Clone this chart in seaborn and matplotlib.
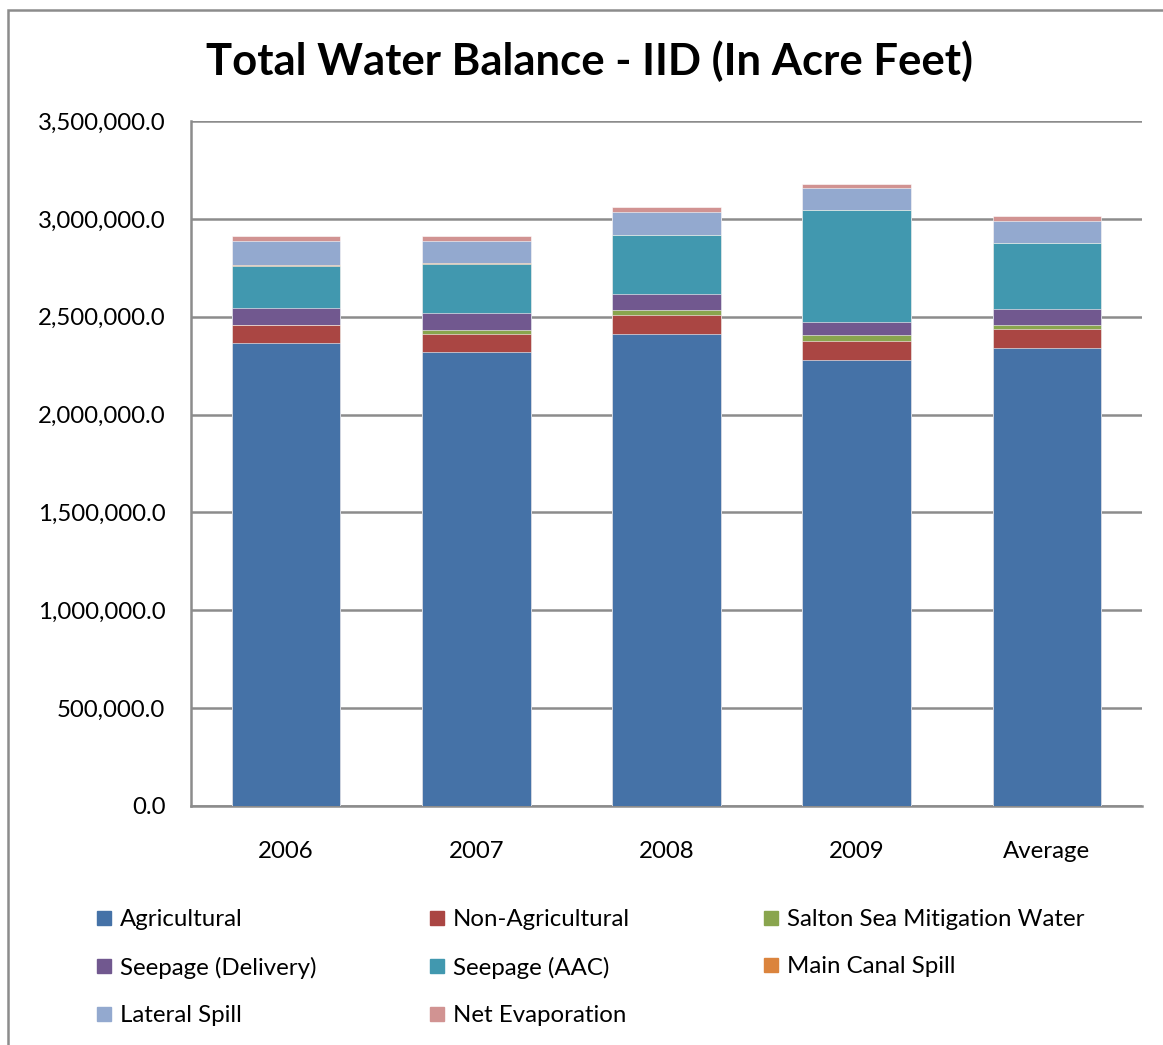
import matplotlib
matplotlib.use("Agg")
import matplotlib.pyplot as plt
from matplotlib.lines import Line2D
from matplotlib.patches import Rectangle
import seaborn as sns
import pandas as pd
import numpy as np

categories = ["2006", "2007", "2008", "2009", "Average"]
agricultural = [2364000, 2318000, 2410000, 2277000, 2341000]
non_agricultural = [92000, 92000, 100000, 97000, 97000]
salton_sea = [0, 22000, 22500, 30700, 20400]
seepage_delivery = [86900, 86900, 81700, 66400, 78700]
seepage_aac = [217600, 250000, 301400, 572200, 337200]
main_canal_spill = [2000, 3000, 2500, 2000, 2500]
lateral_spill = [122600, 114000, 117500, 112400, 114000]
net_evaporation = [25500, 25500, 25500, 20400, 25500]

series_names = ["Agricultural", "Non-Agricultural", "Salton Sea Mitigation Water",
                "Seepage (Delivery)", "Seepage (AAC)", "Main Canal Spill",
                "Lateral Spill", "Net Evaporation"]
series_values = [agricultural, non_agricultural, salton_sea, seepage_delivery,
                 seepage_aac, main_canal_spill, lateral_spill, net_evaporation]
colors = ["#4572A7", "#AA4643", "#89A54E", "#71588F", "#4198AF", "#DB843D",
          "#93A9CF", "#D19392"]

sns.set_theme(style="white")
plt.rcParams['font.family'] = ['Lato', 'DejaVu Sans']
plt.rcParams['text.color'] = 'black'

W, H = 1163, 1045
fig = plt.figure(figsize=(W / 100, H / 100), dpi=100)
ax = fig.add_axes([191 / W, 1 - 806 / H, (1142 - 191) / W, (806 - 121) / H])

df = pd.DataFrame({"cat": categories})
cum = np.zeros(len(categories))
cums = []
for vals in series_values:
    cum = cum + np.array(vals, dtype=float)
    cums.append(cum.copy())

for i in range(len(series_names) - 1, -1, -1):
    df["v"] = cums[i]
    sns.barplot(data=df, x="cat", y="v", color=colors[i], saturation=1,
                width=0.57, ax=ax, edgecolor="white", linewidth=0.4, zorder=3)

ax.set_ylim(0, 3500000)
ax.set_xlim(-0.5, 4.5)
ax.set_yticks(np.arange(0, 3500001, 500000))
ax.set_yticklabels([f"{v:,.1f}" for v in np.arange(0, 3500001, 500000)])
ax.yaxis.grid(True, color="#8c8c8c", linewidth=1.8, zorder=0)
ax.set_axisbelow(True)
ax.set_xlabel("")
ax.set_ylabel("")
for s in ["top", "right"]:
    ax.spines[s].set_visible(False)
for s in ["left", "bottom"]:
    ax.spines[s].set_color("#8c8c8c")
    ax.spines[s].set_linewidth(1.8)
ax.tick_params(axis="y", length=0, pad=18.5, labelsize=17.3, labelcolor="black")
ax.tick_params(axis="x", length=0, pad=25, labelsize=17.3, labelcolor="black")

fig.text(590 / W, 1 - 61 / H, "Total Water Balance - IID (In Acre Feet)",
         ha="center", va="center", fontsize=31.4, fontweight="bold", color="black")

# outer chart frame
fig.patches.append(Rectangle((8 / W, -0.05), 1.2, 1 - 10 / H + 0.05,
                             transform=fig.transFigure, fill=False,
                             edgecolor="#8c8c8c", linewidth=1.8))

cols = [[0, 3, 6], [1, 4, 7], [2, 5]]
col_x = [96, 429, 763]
for ci, idxs in enumerate(cols):
    handles = [Line2D([], [], linestyle="none", marker="s", markersize=10.5,
                      markerfacecolor=colors[k], markeredgecolor=colors[k])
               for k in idxs]
    labels = [series_names[k] for k in idxs]
    fig.legend(handles, labels, loc="upper left",
               bbox_to_anchor=(col_x[ci] / W, 1 - 909 / H),
               frameon=False, fontsize=17.3, handlelength=0.7,
               handletextpad=0.3, labelspacing=1.1, borderpad=0,
               borderaxespad=0, labelcolor="black")

fig.savefig("out.png", dpi=100)
